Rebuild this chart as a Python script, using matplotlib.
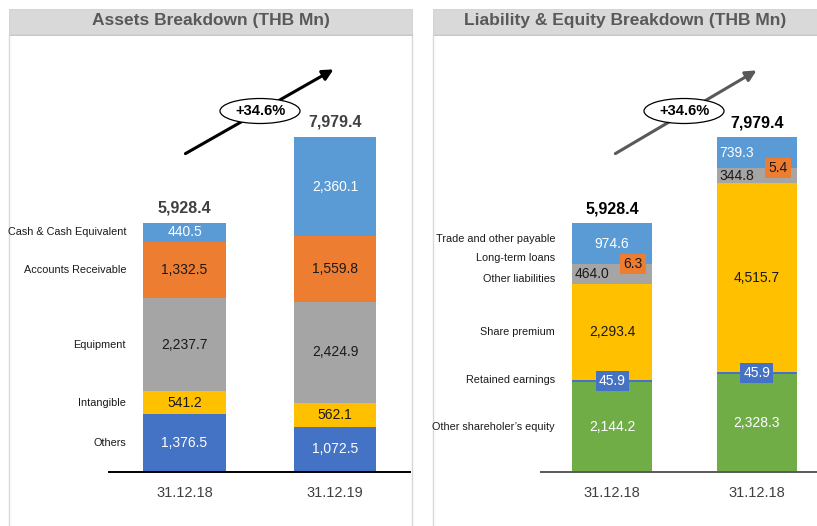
import matplotlib
matplotlib.use('Agg')
import matplotlib.pyplot as plt
from matplotlib.patches import Rectangle, Ellipse
import numpy as np

plt.rcParams['font.family'] = ['Liberation Sans', 'DejaVu Sans']

W, H = 817, 526

# ---------------- data ----------------
assets_periods = ['31.12.18', '31.12.19']
liab_periods = ['31.12.18', '31.12.18']

asset_cats = ['Others', 'Intangible', 'Equipment', 'Accounts Receivable', 'Cash & Cash Equivalent']
asset_2018 = [1376.5, 541.2, 2237.7, 1332.5, 440.5]
asset_2019 = [1072.5, 562.1, 2424.9, 1559.8, 2360.1]

liab_cats = ['Other shareholer\u2019s equity', 'Retained earnings', 'Share premium',
             'Other liabilities', 'Long-term loans', 'Trade and other payable']
liab_2018 = [2144.2, 45.9, 2293.4, 464.0, 6.3, 974.6]
liab_2019 = [2328.3, 45.9, 4515.7, 344.8, 5.4, 739.3]

totals = [5928.4, 7979.4]
growth_label = '+34.6%'
asset_title = 'Assets Breakdown (THB Mn)'
liab_title = 'Liability & Equity Breakdown (THB Mn)'

# ---------------- styles ----------------
asset_colors = ['#4472C4', '#FFC000', '#A5A5A5', '#ED7D31', '#5B9BD5']
asset_txt = ['white', '#1a1a1a', '#1a1a1a', '#1a1a1a', 'white']
liab_colors = ['#70AD47', '#4472C4', '#FFC000', '#A5A5A5', '#ED7D31', '#5B9BD5']
liab_txt = ['white', 'white', '#1a1a1a', '#1a1a1a', '#1a1a1a', 'white']

fig = plt.figure(figsize=(W / 100, H / 100), dpi=100)


def fx(x):
    return x / W


def fy(y):
    return (H - y) / H


# panel frames and title bars
for (x0, x1, title) in [(9, 412, asset_title), (433, 830, liab_title)]:
    fig.add_artist(Rectangle((fx(x0), fy(540)), fx(x1) - fx(x0), fy(33) - fy(540),
                             transform=fig.transFigure, facecolor='white',
                             edgecolor='#D9D9D9', lw=1.0, zorder=0))
    fig.add_artist(Rectangle((fx(x0 + 1), fy(36)), fx(x1) - fx(x0), fy(33) - fy(36),
                             transform=fig.transFigure, facecolor='#C8C8C8',
                             edgecolor='none', zorder=1))
    fig.add_artist(Rectangle((fx(x0), fy(34)), fx(x1) - fx(x0), fy(9) - fy(34),
                             transform=fig.transFigure, facecolor='#D9D9D9',
                             edgecolor='#D0D0D0', lw=0.6, zorder=2))
    fig.text((fx(x0) + fx(min(x1, 817))) / 2, fy(21), title, ha='center', va='center',
             fontsize=12.5, fontweight='bold', color='#595959', zorder=3)

ytop = 10290.0  # value scale at top of axes
ax1 = fig.add_axes([fx(109), fy(472), fx(410) - fx(109), fy(40) - fy(472)])
ax2 = fig.add_axes([fx(541), fy(472), fx(817) - fx(541), fy(40) - fy(472)])

bw = 0.55
x = np.arange(2)


def style(ax, labels, xlim, spine_color):
    ax.set_xlim(*xlim)
    ax.set_ylim(0, ytop)
    ax.patch.set_alpha(0)
    for s in ['top', 'left', 'right']:
        ax.spines[s].set_visible(False)
    ax.spines['bottom'].set_color(spine_color)
    ax.spines['bottom'].set_linewidth(1.4)
    ax.set_yticks([])
    ax.set_xticks(x)
    ax.set_xticklabels(labels, fontsize=10.5, color='#404040')
    ax.tick_params(axis='x', length=0, pad=10)


# ---------------- assets ----------------
style(ax1, assets_periods, (-0.502, 1.498), 'black')
series = [asset_2018, asset_2019]
for i in range(2):
    vals = series[i]
    bottoms = np.concatenate([[0], np.cumsum(vals)[:-1]])
    for j, v in enumerate(vals):
        ax1.bar(x[i], v, bw, bottom=bottoms[j], color=asset_colors[j], edgecolor='none')
        ax1.text(x[i], bottoms[j] + v / 2, f'{v:,.1f}', ha='center', va='center',
                 fontsize=10, color=asset_txt[j])
    ax1.annotate(f'{sum(vals):,.1f}', (x[i], sum(vals)), xytext=(0, 10.8),
                 textcoords='offset points', ha='center', va='center',
                 fontsize=11.5, fontweight='bold', color='#404040')
b0 = np.concatenate([[0], np.cumsum(asset_2018)[:-1]])
for j, c in enumerate(asset_cats):
    ax1.text(-0.389, b0[j] + asset_2018[j] / 2, c, ha='right', va='center',
             fontsize=7.8, color='#1a1a1a')

# ---------------- liabilities ----------------
style(ax2, liab_periods, (-0.49, 1.414), '#595959')
series = [liab_2018, liab_2019]
# label x offsets (px) per segment for each bar
xoff = [[0, 0, 0, -20, 21, 0], [0, 0, 0, -20, 21, -20]]
for i in range(2):
    vals = series[i]
    bottoms = np.concatenate([[0], np.cumsum(vals)[:-1]])
    for j, v in enumerate(vals):
        ax2.bar(x[i], v, bw, bottom=bottoms[j], color=liab_colors[j], edgecolor='none')
        kw = {}
        if j in (1, 4):
            kw['bbox'] = dict(boxstyle='square,pad=0.22', facecolor=liab_colors[j],
                              edgecolor='none')
        ax2.annotate(f'{v:,.1f}', (x[i], bottoms[j] + v / 2),
                     xytext=(xoff[i][j] * 0.72, 0), textcoords='offset points',
                     ha='center', va='center', fontsize=10, color=liab_txt[j], **kw)
    ax2.annotate(f'{sum(vals):,.1f}', (x[i], sum(vals)), xytext=(0, 10),
                 textcoords='offset points', ha='center', va='center',
                 fontsize=11.5, fontweight='bold', color='black')
b0 = np.concatenate([[0], np.cumsum(liab_2018)[:-1]])
yoff = [0, 1, 0, -5, 6, 5]
for j, c in enumerate(liab_cats):
    ax2.annotate(c, (-0.393, b0[j] + liab_2018[j] / 2), xytext=(0, yoff[j] * 0.72),
                 textcoords='offset points', ha='right', va='center',
                 fontsize=7.8, color='#1a1a1a', annotation_clip=False)

# ---------------- growth arrows ----------------
for (tail, head, col, ec) in [((183, 155), (336, 68), 'black', (260, 111)),
                              ((613, 155), (759, 69), '#595959', (684, 111))]:
    fig.add_artist(matplotlib.patches.FancyArrowPatch(
        (fx(tail[0]), fy(tail[1])), (fx(head[0]), fy(head[1])),
        transform=fig.transFigure, arrowstyle='-|>', mutation_scale=16,
        lw=2.2, color=col, zorder=5))
    fig.add_artist(Ellipse((fx(ec[0]), fy(ec[1])), 80 / W, 25 / H,
                           transform=fig.transFigure, facecolor='white',
                           edgecolor='black', lw=0.9, zorder=6))
    fig.text(fx(ec[0]), fy(ec[1]), growth_label, ha='center', va='center',
             fontsize=10.5, fontweight='bold', color='black', zorder=7)

fig.savefig('out.png', dpi=100)
